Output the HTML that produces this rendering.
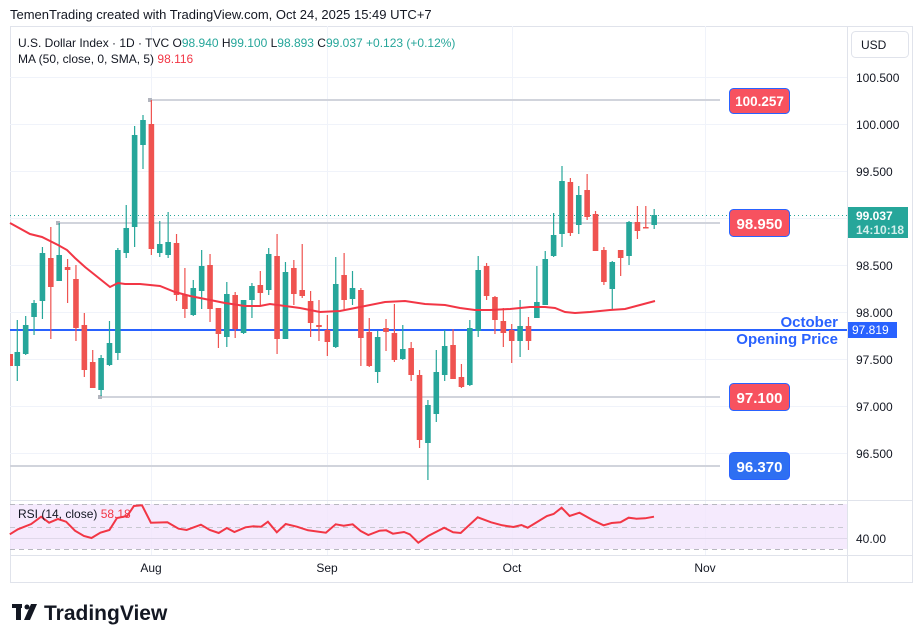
<!DOCTYPE html>
<html><head><meta charset="utf-8"><style>
body{margin:0;width:923px;height:643px;background:#fff;overflow:hidden;font-family:"Liberation Sans",sans-serif;}
svg{position:absolute;left:0;top:0}
</style></head><body>
<svg id="s" width="923" height="643" xmlns="http://www.w3.org/2000/svg" font-family="Liberation Sans, sans-serif">
<text x="10" y="19" font-size="13" fill="#131722">TemenTrading created with TradingView.com, Oct 24, 2025 15:49 UTC+7</text>
<rect x="10.5" y="26.5" width="902" height="556" fill="#fff" stroke="#e0e3eb"/>
<g id="grid" stroke="#f0f3fa" stroke-width="1"></g>
<rect x="10" y="504" width="837" height="45" fill="#f3e5fc" opacity="0.8"/>
<line x1="10" y1="504.5" x2="847" y2="504.5" stroke="#b8b8c0" stroke-dasharray="5,4"/>
<line x1="10" y1="527.5" x2="847" y2="527.5" stroke="#c8c8d0" stroke-dasharray="5,4"/>
<line x1="10" y1="549.5" x2="847" y2="549.5" stroke="#b8b8c0" stroke-dasharray="5,4"/>
<line x1="10" y1="538.5" x2="847" y2="538.5" stroke="#e0d8ea"/>
<line x1="10" y1="500.5" x2="913" y2="500.5" stroke="#e0e3eb"/>
<line x1="10" y1="555.5" x2="913" y2="555.5" stroke="#e0e3eb"/>
<line x1="847.5" y1="26" x2="847.5" y2="582" stroke="#e0e3eb"/>
<g stroke="#d1d4dc" stroke-width="2">
<line x1="150" y1="100" x2="720" y2="100"/>
<line x1="58" y1="223" x2="720" y2="223"/>
<line x1="100" y1="397" x2="720" y2="397"/>
<line x1="10" y1="466" x2="720" y2="466"/>
</g>
<g fill="#b2b5be"><rect x="148" y="98" width="4" height="4"/><rect x="56" y="221" width="4" height="4"/><rect x="98" y="395" width="4" height="4"/></g>
<line x1="10" y1="215.5" x2="847" y2="215.5" stroke="#26a69a" stroke-dasharray="1,3"/>
<line x1="10" y1="330" x2="847" y2="330" stroke="#2962ff" stroke-width="2"/>
<g id="candles"></g>
<polyline id="ma" fill="none" stroke="#f23645" stroke-width="2" points="10,223 30,234 42,237 58,245 67,250 75,258 85,267 100,279 110,287 118,283 125,284 140,284 160,286 175,292 190,296 210,300 225,303 245,306 260,306 270,304 285,306 300,308 310,310 320,312 340,311 360,307 385,302 405,301 425,304 445,305 460,308 475,310 490,310 510,309 530,307 545,307 555,308 565,312 575,313 590,312 610,310 625,309 640,305 655,301"/>
<polyline id="rsi" fill="none" stroke="#f23645" stroke-width="2" points=""/>
<g font-size="15" font-weight="bold" fill="#fff" text-anchor="middle">
<rect x="729.5" y="88.5" width="60" height="25" rx="4" fill="#f7525f" stroke="#2962ff"/><text x="759.5" y="106" font-size="13.5">100.257</text>
<rect x="729.5" y="209.5" width="60" height="27" rx="4" fill="#f7525f" stroke="#2962ff"/><text x="759.5" y="229">98.950</text>
<rect x="729.5" y="383.5" width="60" height="27" rx="4" fill="#f7525f" stroke="#2962ff"/><text x="759.5" y="403">97.100</text>
<rect x="729.5" y="452.5" width="60" height="27" rx="4" fill="#2e6ff2" stroke="#2962ff"/><text x="759.5" y="472">96.370</text>
</g>
<g font-size="15" font-weight="bold" fill="#2962ff" text-anchor="end">
<text x="838" y="327">October</text><text x="838" y="344">Opening Price</text>
</g>
<rect x="851.5" y="31.5" width="57" height="26" rx="4" fill="#fff" stroke="#e0e3eb"/>
<text x="861" y="49" font-size="12" fill="#131722">USD</text>
<g font-size="12" fill="#131722">
<text x="856" y="82">100.500</text><text x="856" y="129">100.000</text><text x="856" y="176">99.500</text>
<text x="856" y="270">98.500</text><text x="856" y="317">98.000</text><text x="856" y="364">97.500</text>
<text x="856" y="411">97.000</text><text x="856" y="458">96.500</text><text x="856" y="543">40.00</text>
</g>
<rect x="848" y="207" width="60" height="31" fill="#26a69a"/>
<text x="856" y="220" font-size="12" font-weight="bold" fill="#fff">99.037</text>
<text x="856" y="234" font-size="12" font-weight="bold" fill="#d4efec">14:10:18</text>
<rect x="848" y="322" width="49" height="16" fill="#2962ff"/>
<text x="852" y="334" font-size="12" fill="#fff">97.819</text>
<g font-size="12" fill="#131722" text-anchor="middle">
<text x="151" y="572">Aug</text><text x="327" y="572">Sep</text><text x="512" y="572">Oct</text><text x="705" y="572">Nov</text>
</g>
<text x="18" y="47" font-size="12" fill="#131722">U.S. Dollar Index · 1D · TVC <tspan fill="#131722">O</tspan><tspan fill="#26a69a">98.940</tspan> H<tspan fill="#26a69a">99.100</tspan> L<tspan fill="#26a69a">98.893</tspan> C<tspan fill="#26a69a">99.037</tspan> <tspan fill="#26a69a">+0.123 (+0.12%)</tspan></text>
<text x="18" y="63" font-size="12" fill="#131722">MA (50, close, 0, SMA, 5) <tspan fill="#f23645">98.116</tspan></text>
<text x="18" y="518" font-size="12" fill="#131722">RSI (14, close) <tspan fill="#f23645">58.18</tspan></text>
<g fill="#131722"><rect x="12" y="604" width="10" height="4"/><rect x="16" y="604" width="5" height="16"/><circle cx="27" cy="607" r="2.5"/><polygon points="31,604 37,604 30,620 24,620"/></g>
<text x="44" y="620" font-size="21" font-weight="bold" fill="#131722">TradingView</text>
</svg>
<script>
var NS="http://www.w3.org/2000/svg";
function el(t,a,p){var e=document.createElementNS(NS,t);for(var k in a)e.setAttribute(k,a[k]);p.appendChild(e);return e;}
var g=document.getElementById("grid");
[77,124,171,218,265,312,359,406,453].forEach(function(y){el("line",{x1:10,x2:847,y1:y+.5,y2:y+.5},g);});
[151,327,512,705].forEach(function(x){el("line",{x1:x+.5,x2:x+.5,y1:26,y2:555},g);});
var C=[[352,366,320,381,1],[325,354,316,355,1],[303,317,300,335,1],[253,301,247,319,1],[258,287,227,339,0],[255,281,223,281,1],[267,270,259,303,0],[279,328,265,341,0],[325,370,313,377,0],[362,388,350,388,0],[358,390,355,396,1],[343,365,321,366,1],[250,353,248,360,1],[228,253,205,258,1],[135,227,126,247,1],[120,145,115,169,1],[124,249,100,255,0],[244,253,221,257,1],[242,255,212,258,1],[243,295,234,301,0],[295,309,268,318,0],[288,315,280,316,1],[266,291,250,309,1],[265,309,254,322,0],[308,334,308,348,0],[294,337,282,347,1],[295,329,292,338,0],[300,333,300,334,1],[286,300,283,318,1],[285,293,271,305,0],[254,290,248,295,1],[256,339,234,354,0],[272,339,262,339,1],[268,294,260,305,0],[290,296,244,298,0],[301,323,291,337,0],[325,327,300,341,0],[330,342,315,356,0],[284,347,257,348,1],[275,300,253,310,0],[288,299,271,305,1],[290,338,288,366,0],[332,366,318,367,0],[337,372,331,383,1],[328,332,319,351,0],[333,360,304,362,0],[349,359,325,360,1],[348,375,342,381,0],[375,440,370,448,0],[405,443,400,480,1],[372,414,350,422,1],[346,375,330,381,1],[345,379,329,379,0],[377,387,364,388,0],[328,385,320,386,1],[270,331,256,337,1],[266,296,263,300,0],[297,320,296,334,0],[321,333,308,347,0],[330,341,324,363,0],[326,341,300,357,1],[326,341,317,350,0],[302,318,266,318,1],[259,305,251,305,1],[235,256,213,257,1],[181,234,166,247,1],[182,233,178,236,0],[195,225,186,234,1],[190,217,174,220,0],[214,251,211,251,0],[250,282,247,285,0],[262,289,261,309,1],[250,258,250,276,0],[222,256,221,265,1],[222,231,206,239,0],[227,228,206,228,0],[215,225,209,229,1]];
var cg=document.getElementById("candles");
el("rect",{x:10,y:354,width:3,height:12,fill:"#ef5350"},cg);
C.forEach(function(c,i){var x=17.3+8.38*i,col=c[4]?"#26a69a":"#ef5350";
el("rect",{x:x-0.6,y:c[2],width:1.2,height:Math.max(1,c[3]-c[2]),fill:col},cg);
el("rect",{x:x-2.8,y:c[0],width:5.6,height:Math.max(1.5,c[1]-c[0]),fill:col},cg);});
var R=[[22,133],[40,118],[70,102],[92,80],[110,98],[130,87],[148,95],[168,122],[188,138],[205,144],[225,128],[245,120],[262,84],[285,78],[300,48],[318,46],[338,98],[375,97],[400,116],[418,120],[450,104],[470,120],[490,129],[508,114],[525,126],[550,112],[568,109],[585,110],[600,95],[620,127],[640,102],[665,110],[690,121],[730,128],[752,103],[770,107],[790,103],[808,123],[825,135],[850,122],[865,121],[880,131],[905,126],[918,133],[937,158],[960,137],[995,113],[1015,127],[1032,129],[1070,82],[1100,97],[1125,106],[1150,111],[1168,105],[1182,113],[1225,78],[1240,72],[1258,53],[1276,78],[1298,68],[1330,92],[1352,106],[1370,99],[1390,97],[1408,83],[1425,86],[1445,85],[1465,80]];
document.getElementById("rsi").setAttribute("points",R.map(function(p){return (p[0]/2.24).toFixed(1)+","+(490+p[1]/3).toFixed(1);}).join(" "));
</script>
</body></html>
